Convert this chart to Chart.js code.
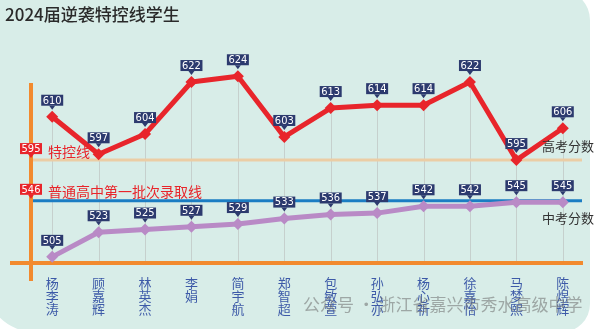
<!DOCTYPE html>
<html>
<head>
<meta charset="utf-8">
<style>
  html, body { margin: 0; padding: 0; background: #fff; }
</style>
</head>
<body>
<canvas id="myChart" width="600" height="329"></canvas>
<script src="https://cdn.jsdelivr.net/npm/chart.js@4/dist/chart.umd.min.js"></script>
<script>
const names = ['杨李涛', '顾嘉辉', '林英杰', '李娟', '简宇航', '郑智超', '包敏萱', '孙弘亦', '杨心祈', '徐嘉怡', '马梦熙', '陈煜辉']
const gaokao = [610, 597, 604, 622, 624, 603, 613, 614, 614, 622, 595, 606]
const zhongkao = [505, 523, 525, 527, 529, 533, 536, 537, 542, 542, 545, 545]
const gaokaoLine = 595
const zhongkaoLine = 546

const CJK = '"Noto Sans CJK SC", "Noto Sans", sans-serif'
const ctx = document.getElementById('myChart')

// little navy tag with a pointer, used over every point
function tag(c, x, y, text, color) {
  const w = 22, h = 11
  c.save()
  c.fillStyle = color
  c.fillRect(x - w / 2, y - h - 4, w, h)
  c.beginPath()
  c.moveTo(x - 3, y - 4)
  c.lineTo(x + 3, y - 4)
  c.lineTo(x, y)
  c.closePath()
  c.fill()
  c.fillStyle = '#fff'
  c.font = '11px "DejaVu Sans Condensed", "Liberation Sans", sans-serif'
  c.textAlign = 'center'
  c.textBaseline = 'middle'
  c.fillText(text, x, y - 4 - h / 2 + 0.5)
  c.restore()
}

const decor = {
  id: 'decor',
  beforeDraw(chart) {
    const c = chart.ctx
    c.save()
    c.fillStyle = '#fff'
    c.fillRect(0, 0, chart.width, chart.height)
    c.fillStyle = '#d8ede8'
    c.beginPath()
    c.roundRect(-15, -10, 605, 342, [0, 30, 28, 50])
    c.fill()
    c.fillStyle = '#2a2a2a'
    c.font = '500 17px ' + CJK
    c.textBaseline = 'middle'
    c.fillText('2024届逆袭特控线学生', 5, 15)
    c.restore()
  },
  beforeDatasetsDraw(chart) {
    const c = chart.ctx
    const area = chart.chartArea
    const top = chart.getDatasetMeta(0).data
    c.save()
    // thin gray drop lines
    c.strokeStyle = '#c6d0cd'
    c.lineWidth = 1
    top.forEach(p => {
      c.beginPath()
      c.moveTo(Math.round(p.x) + 0.5, p.y)
      c.lineTo(Math.round(p.x) + 0.5, area.bottom)
      c.stroke()
    })
    // threshold lines
    const y1 = chart.scales.y.getPixelForValue(gaokaoLine)
    const y2 = chart.scales.y2.getPixelForValue(zhongkaoLine)
    c.lineWidth = 3
    c.strokeStyle = '#ebcda5'
    c.beginPath(); c.moveTo(31, y1); c.lineTo(582, y1); c.stroke()
    c.strokeStyle = '#1b7dc3'
    c.beginPath(); c.moveTo(31, y2); c.lineTo(582, y2); c.stroke()
    // orange axes
    c.strokeStyle = '#f28a2e'
    c.lineWidth = 4
    c.beginPath(); c.moveTo(31, 83); c.lineTo(31, 281); c.stroke()
    c.beginPath(); c.moveTo(10, area.bottom); c.lineTo(583, area.bottom); c.stroke()
    c.restore()
  },
  afterDatasetsDraw(chart) {
    const c = chart.ctx
    const y1 = chart.scales.y.getPixelForValue(gaokaoLine)
    const y2 = chart.scales.y2.getPixelForValue(zhongkaoLine)
    tag(c, 31, y1 - 2, String(gaokaoLine), '#e8252b')
    tag(c, 31, y2 - 2, String(zhongkaoLine), '#e8252b')

    c.save()
    c.font = '14px ' + CJK
    c.fillStyle = '#e8252b'
    c.textBaseline = 'middle'
    c.fillText('特控线', 48, y1 - 8)
    c.fillText('普通高中第一批次录取线', 48, y2 - 9)
    c.restore()

    const m0 = chart.getDatasetMeta(0).data
    const m1 = chart.getDatasetMeta(1).data
    m0.forEach((p, i) => tag(c, p.x, p.y - 7, String(gaokao[i]), '#2c3a6e'))
    m1.forEach((p, i) => tag(c, p.x, p.y - 7, String(zhongkao[i]), '#2c3a6e'))

    c.save()
    c.font = '13px ' + CJK
    c.fillStyle = '#333'
    c.textBaseline = 'middle'
    c.fillText('高考分数', 542, m0[m0.length - 1].y + 18)
    c.fillText('中考分数', 542, m1[m1.length - 1].y + 16)
    // watermark
    c.font = '17px ' + CJK
    c.fillStyle = 'rgba(110,110,110,0.55)'
    c.fillText('公众号 · 浙江省嘉兴市秀水高级中学', 303, 305)
    c.restore()
  }
}

const myChart = new Chart(ctx, {
  type: 'line',
  data: {
    labels: names,
    datasets: [{
      label: '高考分数',
      data: gaokao,
      yAxisID: 'y',
      borderColor: '#e8252b',
      backgroundColor: '#e8252b',
      borderWidth: 5,
      borderJoinStyle: 'round',
      pointStyle: 'rectRot',
      pointRadius: 6,
      pointBorderWidth: 0
    }, {
      label: '中考分数',
      data: zhongkao,
      yAxisID: 'y2',
      borderColor: '#b98ac6',
      backgroundColor: '#b98ac6',
      borderWidth: 5,
      borderJoinStyle: 'round',
      pointStyle: 'rectRot',
      pointRadius: 6,
      pointBorderWidth: 0
    }]
  },
  options: {
    responsive: false,
    animation: false,
    events: [],
    layout: { padding: { top: 30, left: 29, right: 14, bottom: 0 } },
    plugins: { legend: { display: false }, tooltip: { enabled: false } },
    scales: {
      x: {
        offset: true,
        grid: { display: false, drawTicks: false },
        border: { display: false },
        ticks: {
          padding: 14,
          autoSkip: false,
          maxRotation: 0,
          color: '#3d5aa8',
          font: { family: CJK, size: 13, lineHeight: 1.0 },
          callback: (v, i) => names[i].split('')
        },
        afterFit(scale) { scale.height = 66 }
      },
      y: { display: false, min: 559.4, max: 640 },
      y2: { display: false, min: 500.5, max: 671 }
    }
  },
  plugins: [decor]
})
</script>
</body>
</html>
